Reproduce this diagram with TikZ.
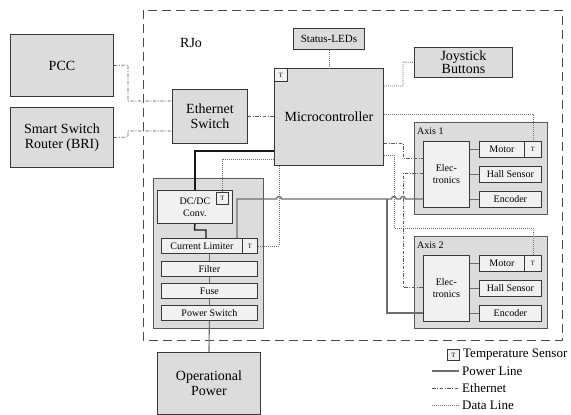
\documentclass[tikz,border=0pt]{standalone}
\usepackage{fontspec}
\setmainfont{Liberation Serif}[Ligatures=TeX]
\newfontfamily\tnr{Liberation Serif}
\usetikzlibrary{calc}
\definecolor{boxfill}{HTML}{DCDCDC}
\definecolor{innerfill}{HTML}{F1F1F1}
\definecolor{edge}{HTML}{383838}
\definecolor{pgray}{HTML}{6E6E6E}
\newcommand{\mkbox}[7]{\node[#1, minimum width={(#5-#3)*1pt}, minimum height={(#6-#4)*1pt}] (#2) at (#3,#4) {#7};}
\tikzset{
  bx/.style={draw=edge, line width=0.9pt, fill=boxfill, inner sep=0pt, anchor=north west, align=center, font=\tnr\fontsize{14}{15.5}\selectfont},
  axbx/.style={draw=black!65, line width=1pt, fill=boxfill, inner sep=0pt, anchor=north west},
  ibx/.style={draw=edge, line width=0.8pt, fill=innerfill, inner sep=0pt, anchor=north west, align=center, font=\tnr\fontsize{10}{12}\selectfont},
  tbx/.style={ibx, font=\tnr\fontsize{6.5}{7}\selectfont},
  lbl/.style={inner sep=0pt, anchor=west},
  pwr/.style={draw=pgray, line width=1.4pt},
  pwrk/.style={draw=black!90, line width=1.4pt},
  lnk/.style={draw=pgray, line width=1.1pt},
  eth/.style={draw=black!65, line width=0.7pt, dash pattern=on 3.5pt off 1.5pt on 1pt off 1.5pt},
  dat/.style={draw=black!55, line width=0.8pt, dash pattern=on 1pt off 1pt},
  frame/.style={draw=black!70, line width=0.8pt, dash pattern=on 9pt off 5pt}
}
\begin{document}
\begin{tikzpicture}[x=1pt, y=-1pt, font=\tnr]
\fill[white] (0,0) rectangle (571,415);
\useasboundingbox (0,0) rectangle (571,415);

% RJo frame
\draw[frame] (143,10) rectangle (562,340);
\node[lbl, font=\tnr\fontsize{14}{15}\selectfont] (rjo) at (180,43) {RJo};

% external boxes
\mkbox{bx}{pcc}{10}{34}{113}{96}{PCC}
\mkbox{bx}{sw}{10}{107}{113}{167}{Smart Switch\\Router (BRI)}
\mkbox{bx}{op}{157}{352}{260}{414}{Operational\\Power}

% inside
\mkbox{bx}{eth}{172}{89}{247}{143}{Ethernet\\Switch}
\mkbox{bx}{mc}{274}{68}{383}{165}{Microcontroller}
\mkbox{tbx}{mct}{274}{68}{287}{81}{T}
\mkbox{bx, font=\tnr\fontsize{11}{12}\selectfont}{led}{293}{28}{364}{49}{Status-LEDs}
\mkbox{bx, font=\tnr\fontsize{14}{13.5}\selectfont}{joy}{414}{47}{512}{77}{Joystick\\Buttons}

% power block
\mkbox{axbx}{pb}{153}{178}{263}{328}{}
\mkbox{ibx}{dc}{157}{190}{232}{223}{DC/DC\\Conv.}
\mkbox{tbx}{dct}{216}{192}{228}{204}{T}
\mkbox{ibx}{cl}{161}{238}{242}{253}{Current Limiter}
\mkbox{tbx}{clt}{242}{238}{257}{253}{T}
\mkbox{ibx}{fi}{161}{261}{257}{276}{Filter}
\mkbox{ibx}{fu}{161}{283}{257}{298}{Fuse}
\mkbox{ibx}{ps}{161}{305}{257}{320}{Power Switch}

% Axis 1
\mkbox{axbx}{ax1}{414}{122}{547}{214}{}
\node[lbl, font=\tnr\fontsize{10}{12}\selectfont] (ax1l) at (417,131) {Axis 1};
\mkbox{ibx}{el1}{423}{141}{469}{207}{Elec-\\tronics}
\mkbox{ibx}{mo1}{479}{141}{524}{157}{Motor}
\mkbox{tbx}{mt1}{524}{141}{541}{157}{T}
\mkbox{ibx}{ha1}{479}{166}{541}{182}{Hall Sensor}
\mkbox{ibx}{en1}{479}{191}{541}{207}{Encoder}

% Axis 2
\mkbox{axbx}{ax2}{414}{236}{547}{328}{}
\node[lbl, font=\tnr\fontsize{10}{12}\selectfont] (ax2l) at (417,245) {Axis 2};
\mkbox{ibx}{el2}{423}{255}{469}{321}{Elec-\\tronics}
\mkbox{ibx}{mo2}{479}{255}{524}{271}{Motor}
\mkbox{tbx}{mt2}{524}{255}{541}{271}{T}
\mkbox{ibx}{ha2}{479}{280}{541}{296}{Hall Sensor}
\mkbox{ibx}{en2}{479}{305}{541}{321}{Encoder}

% inner axis links
\foreach \a in {1,2}{
  \draw[lnk] (mo\a.west) -- (mo\a.west -| el\a.east);
  \draw[lnk] (ha\a.west) -- (ha\a.west -| el\a.east);
  \draw[lnk] (en\a.west) -- (en\a.west -| el\a.east);
}

% ethernet
\draw[eth] (pcc.east) -- (128,65) -- (128,101) -- (eth.west |- 0,101);
\draw[eth] (sw.east) -- (128,137) -- (128,131) -- (eth.west |- 0,131);
\draw[eth] (eth.east) -- (eth.east -| mc.west);
\draw[eth] (mc.east |- 0,143) -- (403,143) -- (403,158) -- (el1.west |- 0,158);
\draw[eth] (el1.west |- 0,173) -- (403,173) -- (403,287) -- (el2.west |- 0,287);

% data lines
\draw[dat] (led.south) -- (led.south |- mc.north);
\draw[dat] (mc.east |- 0,86) -| (403,62) -- (joy.west);
\draw[dat] (mc.east |- 0,114) -| (mt1.north);
\draw[dat] (mc.east |- 0,155) -- (394,155) -- (394,228) -| (mt2.north);
\draw[dat] (mc.west |- 0,159) -| (dct.north);
\draw[dat] (clt.east) -| (mc.south -| 279,0);

% power lines
\draw[pwrk] (mc.west |- 0,151) -| (dc.north);
\draw[pwrk] (dc.south) -- (194.5,230) -- (206,230) -- (cl.north -| 206,0);
\draw[lnk] (cl.south -| fi.north) -- (fi.north);
\draw[lnk] (fi.south) -- (fu.north);
\draw[lnk] (fu.south) -- (ps.north);
\draw[lnk] (ps.south) -- (op.north);
\draw[pwr] (cl.north -| 237,0) -- (237,199) -- (276.5,199) arc[start angle=180, end angle=0, radius=2.5pt]
  -- (391.5,199) arc[start angle=180, end angle=0, radius=2.5pt]
  -- (400.5,199) arc[start angle=180, end angle=0, radius=2.5pt]
  -- (el1.west |- 0,199);
\draw[pwr] (387,199) -- (387,313) -- (el2.west |- 0,313);

% legend
\mkbox{tbx}{lgt}{447}{349}{459}{360}{T}
\node[lbl, font=\tnr\fontsize{13}{14}\selectfont] (lgtt) at (463,354.5) {Temperature Sensor};
\coordinate (lp1) at (432,371); \coordinate (lp2) at (459,371);
\draw[pwr] (lp1) -- (lp2);
\node[lbl, font=\tnr\fontsize{13}{14}\selectfont] (lpt) at (462,371) {Power Line};
\coordinate (le1) at (432,388); \coordinate (le2) at (459,388);
\draw[eth] (le1) -- (le2);
\node[lbl, font=\tnr\fontsize{13}{14}\selectfont] (let) at (462,388) {Ethernet};
\coordinate (ld1) at (432,405); \coordinate (ld2) at (459,405);
\draw[dat] (ld1) -- (ld2);
\node[lbl, font=\tnr\fontsize{13}{14}\selectfont] (ldt) at (462,405) {Data Line};
\end{tikzpicture}
\end{document}
